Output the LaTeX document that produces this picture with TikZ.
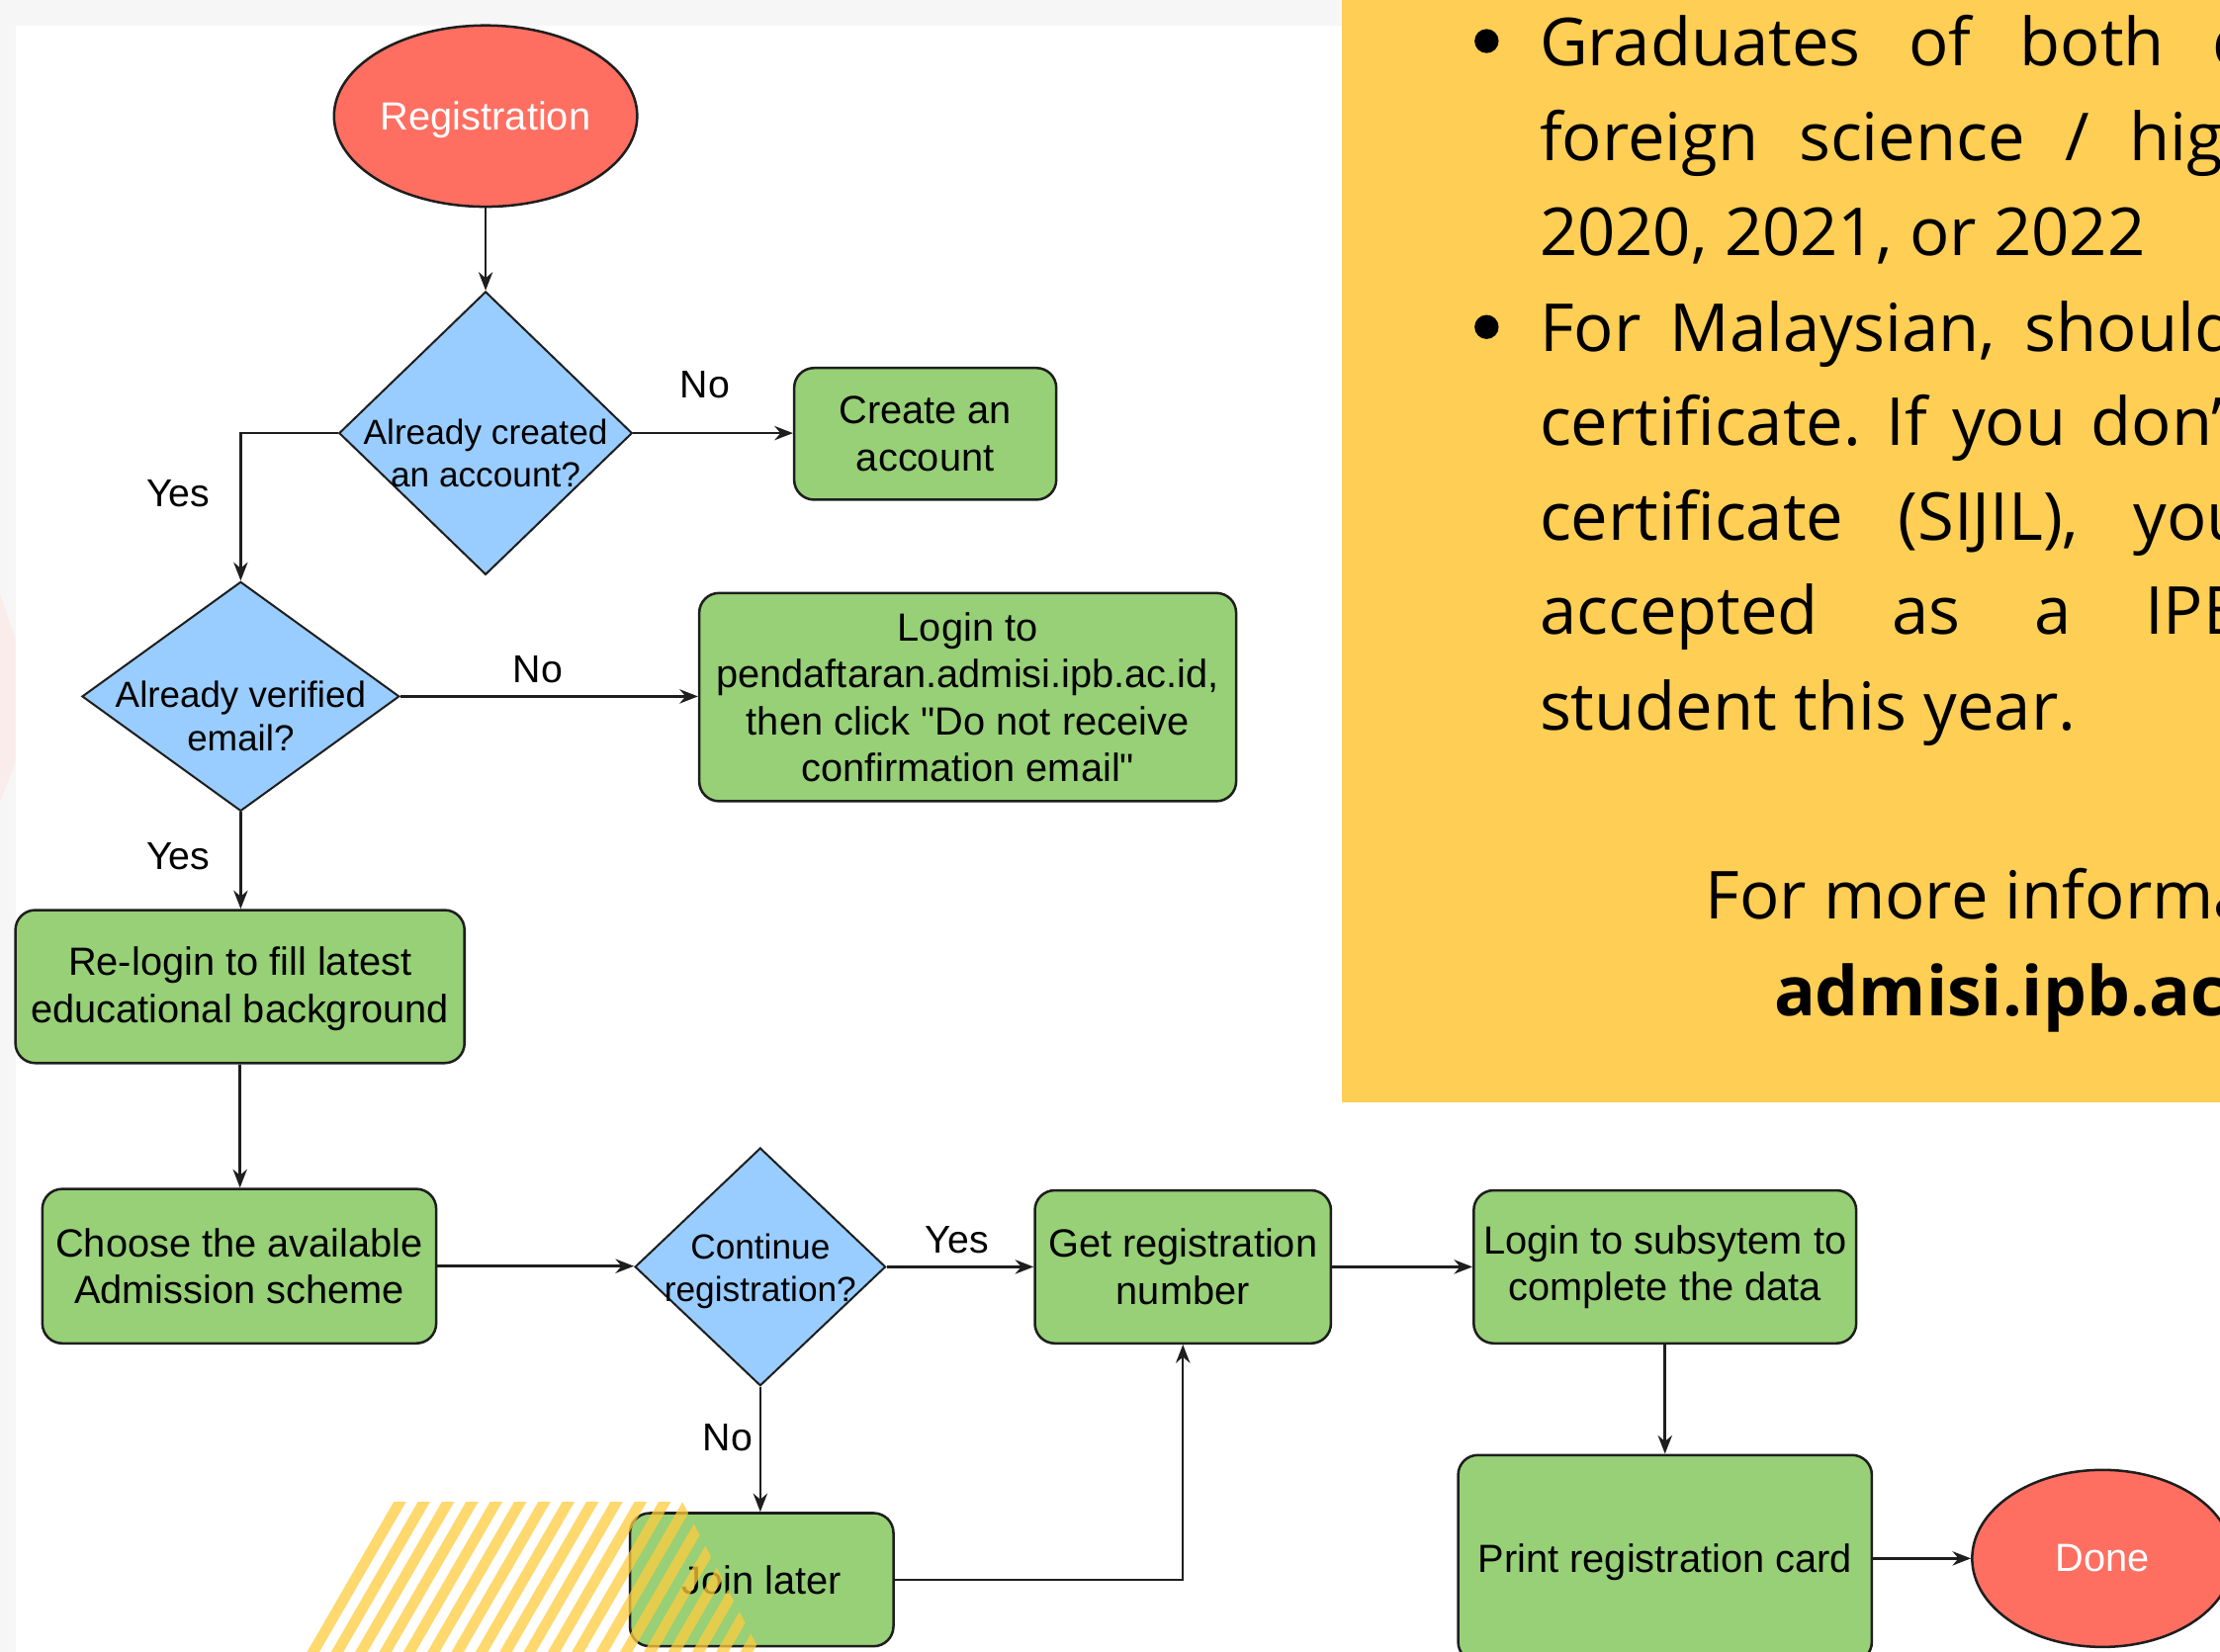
\documentclass[tikz,border=0pt]{standalone}
\usepackage{fontspec}
\setmainfont{Liberation Sans}[Ligatures=TeXOff]
\newfontfamily\infofont{Open Sans}
\usepackage{tikz}
\usetikzlibrary{shapes.geometric}
\usetikzlibrary{arrows.meta}
\usepackage{xcolor}
\definecolor{ColTerm}{RGB}{255,111,97}
\definecolor{ColDec}{RGB}{153,204,255}
\definecolor{ColStep}{RGB}{151,208,119}
\definecolor{ColNote}{RGB}{255,206,84}
\definecolor{ColStripe}{RGB}{255,203,62}
\definecolor{ColLine}{RGB}{30,30,30}
\definecolor{ColBack}{RGB}{246,246,246}
\definecolor{ColBlush}{RGB}{251,236,236}
\newcommand\FlowFont{\fontsize{7.9}{9.4}\selectfont}
\newcommand\DecFont{\fontsize{7}{8.6}\selectfont}
\newcommand\TagFont{\fontsize{7.8}{9}\selectfont}
\newcommand\InfoFont{\infofont\fontsize{13.3}{16}\selectfont}
\newcommand\JustLine[2]{\hbox to #1{#2}}
\tikzstyle{Terminal}=[ellipse,draw=ColLine,fill=ColTerm,inner sep=0pt,text=white,font=\FlowFont,line width=.5pt]
\tikzstyle{StepBox}=[rectangle,rounded corners=1.4mm,draw=ColLine,fill=ColStep,inner sep=0pt,align=center,font=\FlowFont,line width=.5pt]
\tikzstyle{Decision}=[diamond,draw=ColLine,fill=ColDec,inner sep=0pt,line width=.4pt]
\tikzstyle{DecText}=[align=center,font=\DecFont,inner sep=0pt]
\tikzstyle{Flow}=[ColLine,line width=.5pt,-{Stealth[length=1.3mm,width=1mm]}]
\tikzstyle{FlowLabel}=[font=\TagFont,inner sep=0pt]
\tikzstyle{InfoLine}=[anchor=base west,inner sep=0pt,font=\InfoFont]
\tikzstyle{Bullet}=[circle,fill=black,inner sep=0pt,minimum size=1.7mm]
\tikzstyle{Stripe}=[ColStripe,opacity=.75,line width=.75mm]

\begin{document}
\begin{tikzpicture}[x=0.01cm,y=-0.01cm]
        \useasboundingbox(0,0)rectangle(1568,1167);
        \clip(0,0)rectangle(1568,1167);
        % backdrop and info panel
        \fill[ColBack](0,0)rectangle(1568,1167);
        \fill[white](11,18)rectangle(1568,1167);
        \fill[ColBlush](0,420)--(11,452)--(11,538)--(0,566)--cycle;
        \fill[ColNote](948,0)rectangle(1568,779);
        % flowchart
        \node[Terminal,minimum width=2.14cm,minimum height=1.28cm,text depth=0pt](reg)at(343,82){Registration};
        \node[Decision,minimum width=2.07cm,minimum height=2cm,
            label={[DecText,yshift=-1.4mm]center:{Already created\\an account?}}](created)at(343,306){};
        \node[StepBox,minimum width=1.85cm,minimum height=.93cm](account)at(653.5,306.5){Create an\\account};
        \node[Decision,minimum width=2.24cm,minimum height=1.62cm,
            label={[DecText,font=\fontsize{7.3}{8.6}\selectfont,yshift=-1.4mm]center:{Already verified\\email?}}](verified)at(170,492){};
        \node[StepBox,minimum width=3.79cm,minimum height=1.47cm](login)at(683.5,492.5){Login to\\pendaftaran.admisi.ipb.ac.id,\\then click "Do not receive\\confirmation email"};
        \node[StepBox,minimum width=3.17cm,minimum height=1.08cm](relogin)at(169.5,697){\strut Re-login to fill latest\\educational background};
        \node[StepBox,minimum width=2.78cm,minimum height=1.09cm](scheme)at(169,894.5){Choose the available\\Admission scheme};
        \node[Decision,minimum width=1.77cm,minimum height=1.68cm,
            label={[DecText,yshift=-.3mm]center:{Continue\\registration?}}](continue)at(537,895){};
        \node[StepBox,minimum width=2.09cm,minimum height=1.08cm](number)at(835.5,895){Get registration\\number};
        \node[StepBox,minimum width=2.7cm,minimum height=1.08cm](subsystem)at(1176,895){Login to subsytem to\\complete the data};
        \node[StepBox,minimum width=2.92cm,minimum height=1.46cm,text depth=0pt](card)at(1176,1101){Print registration card};
        \node[Terminal,minimum width=1.84cm,minimum height=1.25cm](done)at(1485,1101){Done};
        \node[StepBox,minimum width=1.86cm,minimum height=.94cm](later)at(538,1116){Join later};
        \draw[Flow](reg)--(created);
        \draw[Flow](created.east)--(created.east -| account.west);
        \draw[Flow](created.west)-|(verified.north);
        \draw[Flow](verified.east)--(verified.east -| login.west);
        \draw[Flow](verified.south)--(verified.south |- relogin.north);
        \draw[Flow](relogin.south)--(relogin.south |- scheme.north);
        \draw[Flow](scheme.east)--(scheme.east -| continue.west);
        \draw[Flow](continue.east)--(continue.east -| number.west);
        \draw[Flow](number.east)--(number.east -| subsystem.west);
        \draw[Flow](subsystem.south)--(subsystem.south |- card.north);
        \draw[Flow](card.east |- done.west)--(done.west);
        \draw[Flow](continue.south)--(continue.south |- later.north);
        \draw[Flow](later.east)-|(number.south);
        \node[FlowLabel](noCreated)at(498,272){No};
        \node[FlowLabel](yesCreated)at(126,349){Yes};
        \node[FlowLabel](noVerified)at(380,473){No};
        \node[FlowLabel](yesVerified)at(126,605){Yes};
        \node[FlowLabel](yesContinue)at(676,876){Yes};
        \node[FlowLabel](noContinue)at(514,1016){No};
        % striped patch over the bottom
        \begin{scope}
            \clip(273,1061)--(482,1061)--(537,1167)--(213,1167)--cycle;
            \foreach \k in {0,...,26}{\draw[Stripe](140+17*\k,1190)--(226.6+17*\k,1040);}
        \end{scope}
        % notes
        \node[Bullet](dotA)at(1050,29){};
        \node[Bullet](dotB)at(1050,231){};
        \node[InfoLine](infoA)at(1086.8,46.6){\JustLine{4.752cm}{Graduates\hfill of\hfill both\hfill\rlap{domestic}}};
        \node[InfoLine](infoB)at(1086.8,113.6){\JustLine{4.165cm}{foreign\hfill science\hfill /\hfill\rlap{high}}};
        \node[InfoLine](infoC)at(1086.8,180.5){2020, 2021, or 2022};
        \node[InfoLine](infoD)at(1086.8,248){\JustLine{3.426cm}{For\hfill Malaysian,\hfill\rlap{should}}};
        \node[InfoLine](infoE)at(1086.8,314.8){\JustLine{3.894cm}{certificate.\hfill If\hfill you\hfill\rlap{don’t}}};
        \node[InfoLine](infoF)at(1086.8,381.8){\JustLine{4.193cm}{certificate\hfill (SIJIL),\hfill\rlap{you}}};
        \node[InfoLine](infoG)at(1086.8,448.2){\JustLine{4.273cm}{accepted\hfill as\hfill a\hfill\rlap{IPB}}};
        \node[InfoLine](infoH)at(1086.8,515.7){student this year.};
        \node[InfoLine](moreInfo)at(1203.8,649.5){For more information};
        \node[InfoLine,font=\infofont\fontsize{13.8}{16}\selectfont\bfseries](site)at(1252.3,717.4){admisi.ipb.ac.id};
    \end{tikzpicture}
\end{document}
